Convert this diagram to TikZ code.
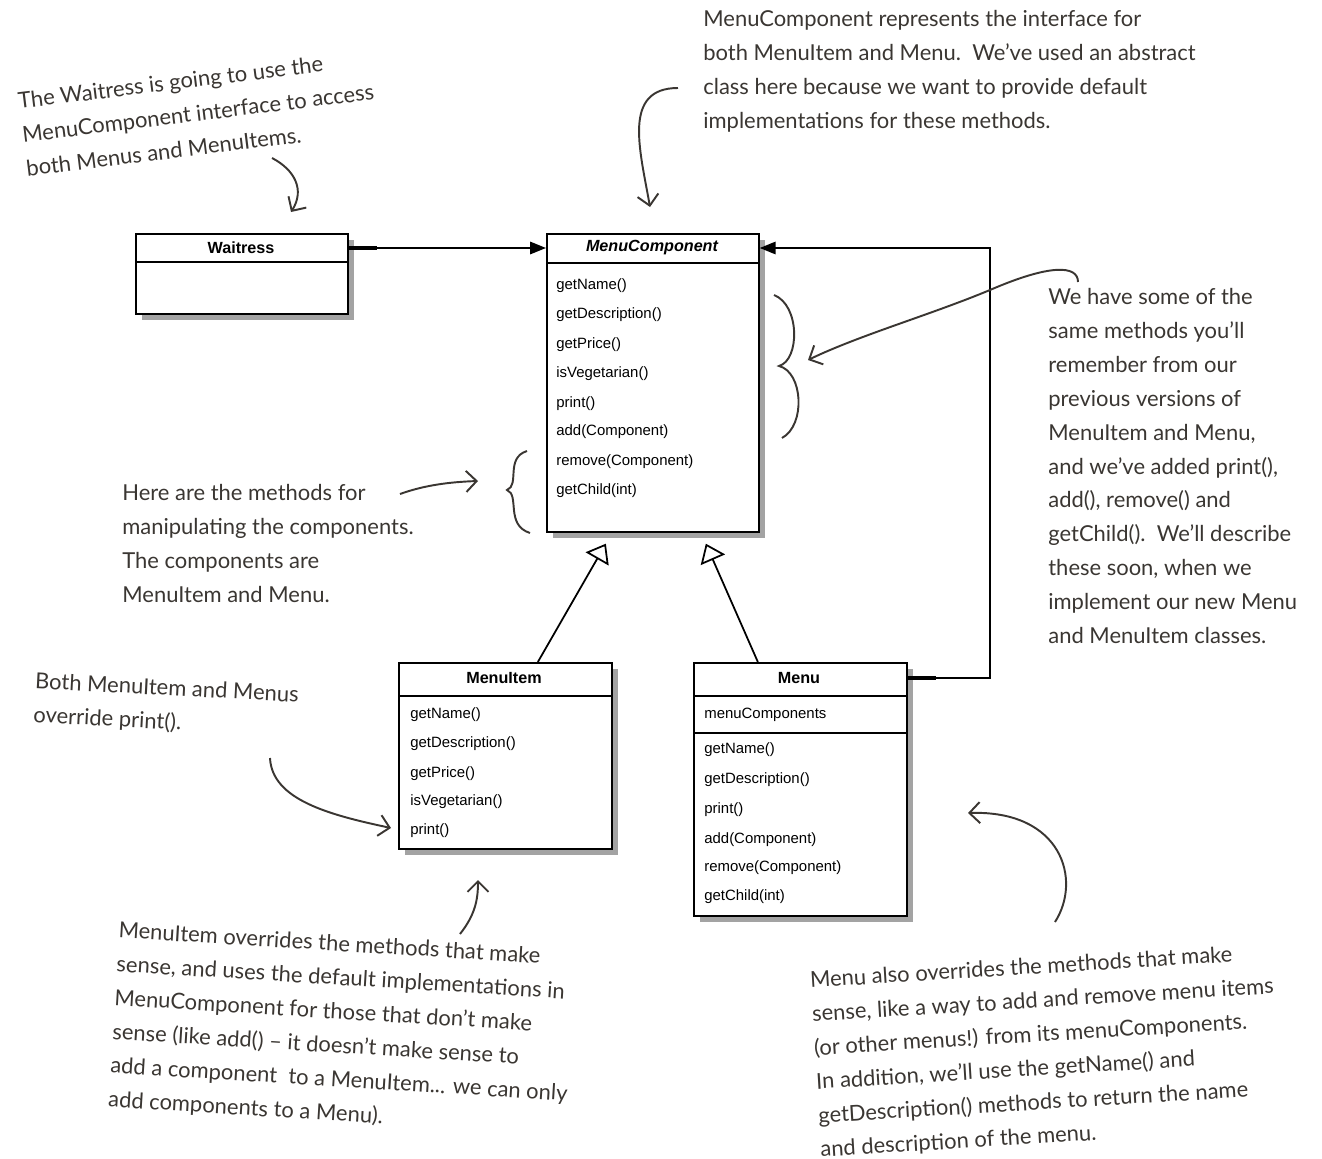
\documentclass[tikz,border=0pt]{standalone}
\usepackage{fontspec}
\setmainfont{Liberation Sans}
\newfontfamily\handfont{Lato}
\usetikzlibrary{arrows.meta,shadows,positioning}
\definecolor{notegray}{RGB}{58,54,50}

\begin{document}
\begin{tikzpicture}[x=0.02cm, y=-0.02cm,
  class/.style={draw, line width=1pt, fill=white, anchor=north west, inner sep=0pt,
    drop shadow={shadow xshift=3.5pt, shadow yshift=-3.5pt, opacity=0.45, fill=black!80}},
  sep/.style={line width=1pt},
  head/.style={inner sep=0pt, font=\fontsize{9.2}{10}\selectfont\bfseries},
  method/.style={anchor=west, inner sep=0pt, font=\fontsize{8.5}{10}\selectfont},
  assoc/.style={line width=1.1pt, -{Triangle[length=9pt,width=7pt]}},
  inherit/.style={line width=1pt, -{Triangle[open,length=10pt,width=15pt,fill=white]}},
  note/.style={inner sep=0pt, align=left, text=notegray, font=\handfont\fontsize{12.5}{19.3}\selectfont},
  hand/.style={draw=notegray, line width=1.1pt, -{Straight Barb[length=6pt,width=12pt]}},
  curly/.style={draw=notegray, line width=1.1pt}
]
\useasboundingbox (0,0) rectangle (1322,1159);

\node[class, minimum width=4.24cm, minimum height=1.6cm] (waitress) at (135,233) {};
\draw[sep] ([yshift=-0.58cm]waitress.north west) -- ([yshift=-0.58cm]waitress.north east);
\node[head] (waitressname) at (241,248) {Waitress};

\node[class, minimum width=4.24cm, minimum height=5.96cm] (comp) at (546,233) {};
\draw[sep] ([yshift=-0.6cm]comp.north west) -- ([yshift=-0.6cm]comp.north east);
\node[head, font=\fontsize{9.2}{10}\selectfont\bfseries\itshape] (compname) at (652,248) {MenuComponent};
\node[method] (c1) at (556,286) {getName()};
\node[method] (c2) at (556,315) {getDescription()};
\node[method] (c3) at (556,345) {getPrice()};
\node[method] (c4) at (556,374) {isVegetarian()};
\node[method] (c5) at (556,404) {print()};
\node[method] (c6) at (556,432) {add(Component)};
\node[method] (c7) at (556,462) {remove(Component)};
\node[method] (c8) at (556,491) {getChild(int)};

\node[class, minimum width=4.26cm, minimum height=3.72cm] (item) at (398,662) {};
\draw[sep] ([yshift=-0.68cm]item.north west) -- ([yshift=-0.68cm]item.north east);
\node[head] (itemname) at (504,678) {MenuItem};
\node[method] (i1) at (410,715) {getName()};
\node[method] (i2) at (410,744) {getDescription()};
\node[method] (i3) at (410,774) {getPrice()};
\node[method] (i4) at (410,802) {isVegetarian()};
\node[method] (i5) at (410,831) {print()};

\node[class, minimum width=4.26cm, minimum height=5.06cm] (menu) at (693,662) {};
\draw[sep] ([yshift=-0.68cm]menu.north west) -- ([yshift=-0.68cm]menu.north east);
\draw[sep] ([yshift=-1.42cm]menu.north west) -- ([yshift=-1.42cm]menu.north east);
\node[head] (menuname) at (799,678) {Menu};
\node[method] (m0) at (704,715) {menuComponents};
\node[method] (m1) at (704,750) {getName()};
\node[method] (m2) at (704,780) {getDescription()};
\node[method] (m3) at (704,810) {print()};
\node[method] (m4) at (704,840) {add(Component)};
\node[method] (m5) at (704,868) {remove(Component)};
\node[method] (m6) at (704,897) {getChild(int)};

\draw[assoc] (waitressname -| waitress.east) -- (compname -| comp.west);
\draw[line width=2.4pt] (waitressname -| waitress.east) -- ++(28,0);
\draw[assoc] (menuname -| menu.east) -- ++(82,0) |- (compname -| comp.east);
\draw[line width=2.4pt] (menuname -| menu.east) -- ++(28,0);
\draw[inherit] ([xshift=0.65cm]item.north) -- ([xshift=-0.94cm,yshift=-0.22cm]comp.south);
\draw[inherit] ([xshift=-0.85cm]menu.north) -- ([xshift=1.06cm,yshift=-0.22cm]comp.south);

\node[note, anchor=north west] (topnote) at (703,10) {MenuComponent represents the interface for\\both MenuItem and Menu.\ \ We’ve used an abstract\\class here because we want to provide default\\implementations for these methods.};
\node[note, rotate=7] (waitnote) at (198,113) {The Waitress is going to use the\\MenuComponent interface to access\\both Menus and MenuItems.};
\node[note, anchor=north west] (rightnote) at (1048,288) {We have some of the\\same methods you’ll\\remember from our\\previous versions of\\MenuItem and Menu,\\and we’ve added print(),\\add(), remove() and\\getChild().\ \ We’ll describe\\these soon, when we\\implement our new Menu\\and MenuItem classes.};
\node[note, anchor=north west] (herenote) at (122,484) {Here are the methods for\\manipulating the components.\\The components are\\MenuItem and Menu.};
\node[note, rotate=-3] (bothnote) at (166,706) {Both MenuItem and Menus\\override print().};
\node[note, rotate=-3.5] (itemnote) at (342,1030) {MenuItem overrides the methods that make\\sense, and uses the default implementations in\\MenuComponent for those that don’t make\\sense (like add() \textendash{} it doesn’t make sense to\\add a component\ \ to a MenuItem... we can only\\add components to a Menu).};
\node[note, rotate=3.5] (menunote) at (1046,1052) {Menu also overrides the methods that make\\sense, like a way to add and remove menu items\\(or other menus!) from its menuComponents.\\In addition, we’ll use the getName() and\\getDescription() methods to return the name\\and description of the menu.};

\coordinate (wa) at (272,158);
\coordinate (wb) at (291,212);
\coordinate (ta) at (678,88);
\coordinate (tb) at (650,207);
\coordinate (ra) at (1078,282);
\coordinate (rb) at (808,360);
\coordinate (ha) at (400,494);
\coordinate (hb) at (478,481);
\coordinate (ba) at (270,758);
\coordinate (bb) at (391,828);
\coordinate (ia) at (460,934);
\coordinate (ib) at (478,880);
\coordinate (ma) at (1055,922);
\coordinate (mb) at (968,813);

\draw[hand] (wa) .. controls (295,170) and (305,190) .. (wb);
\draw[hand] (ta) .. controls (622,88) and (640,150) .. (tb);
\draw[hand] (ra) .. controls (1078,265) and (1050,264) .. (990,290) .. controls (930,315) and (860,335) .. (rb);
\draw[hand] (ha) .. controls (425,485) and (450,482) .. (hb);
\draw[hand] (ba) .. controls (272,800) and (330,815) .. (bb);
\draw[hand] (ia) .. controls (475,915) and (478,900) .. (ib);
\draw[hand] (ma) .. controls (1082,880) and (1062,810) .. (mb);

\draw[curly] (774,295) .. controls (800,305) and (800,360) .. (779,366) .. controls (803,372) and (806,425) .. (782,438);
\draw[curly] (527,451) .. controls (505,458) and (520,485) .. (507,490) .. controls (520,495) and (505,525) .. (530,533);
\end{tikzpicture}
\end{document}
